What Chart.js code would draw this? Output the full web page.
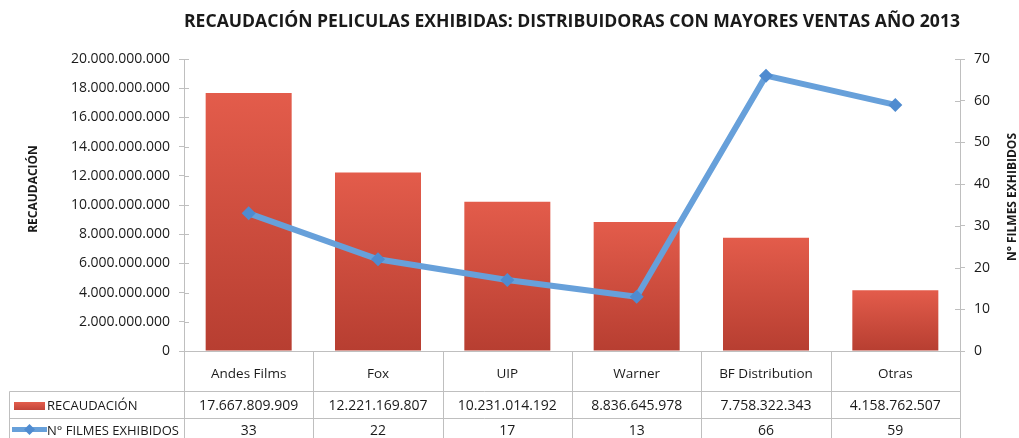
<!DOCTYPE html>
<html>
<head>
<meta charset="utf-8">
<script src="https://cdn.jsdelivr.net/npm/chart.js@4.4.1/dist/chart.umd.min.js"></script>
<style>
html,body{margin:0;padding:0;background:#fff;}
#wrap{width:1019px;height:438px;position:relative;}
</style>
</head>
<body>
<div id="wrap"><canvas id="c" width="1019" height="438"></canvas></div>
<script>
const categories = ['Andes Films', 'Fox', 'UIP', 'Warner', 'BF Distribution', 'Otras'];
const recaudacion = [17667809909, 12221169807, 10231014192, 8836645978, 7758322343, 4158762507];
const filmes = [33, 22, 17, 13, 66, 59];
const seriesNames = ['RECAUDACIÓN', 'N° FILMES EXHIBIDOS'];
const titleText = 'RECAUDACIÓN PELICULAS EXHIBIDAS: DISTRIBUIDORAS CON MAYORES VENTAS AÑO 2013';
const leftAxisTitle = 'RECAUDACIÓN';
const rightAxisTitle = 'N° FILMES EXHIBIDOS';

const FONT = "'Open Sans', 'DejaVu Sans', sans-serif";
const GRID = '#bfbfbf';
const TXT = '#1a1a1a';
const LINE = '#67A0DA';
const MARK = '#4F8BD0';

function fmt(v) {
  return String(Math.round(v)).replace(/\B(?=(\d{3})+(?!\d))/g, '.');
}

const decorPlugin = {
  id: 'decor',
  afterDraw(chart) {
    const ctx = chart.ctx;
    const x = chart.scales.x, y = chart.scales.y, y1 = chart.scales.y1;
    const ca = chart.chartArea;
    const L = ca.left, R = ca.right, B = ca.bottom;
    ctx.save();
    // inner tick marks
    ctx.strokeStyle = GRID; ctx.lineWidth = 1;
    y.ticks.forEach((t, i) => {
      const py = Math.round(y.getPixelForTick(i)) + 0.5;
      ctx.beginPath(); ctx.moveTo(L, py); ctx.lineTo(L + 5, py); ctx.stroke();
    });
    y1.ticks.forEach((t, i) => {
      const py = Math.round(y1.getPixelForTick(i)) + 0.5;
      ctx.beginPath(); ctx.moveTo(R - 5, py); ctx.lineTo(R, py); ctx.stroke();
    });
    // table grid
    const n = categories.length;
    const cw = (R - L) / n;
    const row1 = 391.5, row2 = 418.5, bot = 438;
    const tableLeft = 9.5;
    ctx.beginPath();
    ctx.moveTo(L - 5, Math.round(B) + 0.5); ctx.lineTo(R + 5, Math.round(B) + 0.5);
    ctx.moveTo(tableLeft, row1); ctx.lineTo(R, row1);
    ctx.moveTo(tableLeft, row2); ctx.lineTo(R, row2);
    ctx.moveTo(tableLeft, row1); ctx.lineTo(tableLeft, bot);
    for (let i = 0; i <= n; i++) {
      const px = Math.round(L + i * cw) + 0.5;
      ctx.moveTo(px, B); ctx.lineTo(px, bot);
    }
    ctx.stroke();
    // table text
    ctx.fillStyle = TXT;
    ctx.textAlign = 'center'; ctx.textBaseline = 'middle';
    for (let i = 0; i < n; i++) {
      const cx = x.getPixelForValue(i);
      ctx.font = '13.5px ' + FONT;
      ctx.fillText(categories[i], cx, 374);
      ctx.font = '14px ' + FONT;
      ctx.fillText(fmt(recaudacion[i]), cx, 406);
      ctx.fillText(String(filmes[i]), cx, 431);
    }
    // legend keys
    const g = ctx.createLinearGradient(0, 402, 0, 410);
    g.addColorStop(0, '#E35D4C'); g.addColorStop(1, '#C2453A');
    ctx.fillStyle = g;
    ctx.fillRect(14, 402, 31, 8);
    ctx.strokeStyle = LINE; ctx.lineWidth = 5;
    ctx.beginPath(); ctx.moveTo(12, 429.5); ctx.lineTo(47, 429.5); ctx.stroke();
    ctx.fillStyle = MARK;
    ctx.beginPath();
    ctx.moveTo(29.5, 424); ctx.lineTo(35, 429.5); ctx.lineTo(29.5, 435); ctx.lineTo(24, 429.5); ctx.closePath(); ctx.fill();
    ctx.fillStyle = TXT; ctx.textAlign = 'left';
    ctx.font = '13px ' + FONT;
    ctx.fillText(seriesNames[0], 47, 406);
    ctx.fillText(seriesNames[1], 47, 431);
    // axis titles
    ctx.font = 'bold 12px ' + FONT;
    ctx.textAlign = 'center';
    ctx.save(); ctx.translate(34, 189); ctx.rotate(-Math.PI / 2); ctx.fillText(leftAxisTitle, 0, 0); ctx.restore();
    ctx.save(); ctx.translate(1013, 197); ctx.rotate(-Math.PI / 2); ctx.fillText(rightAxisTitle, 0, 0); ctx.restore();
    ctx.restore();
  }
};

new Chart(document.getElementById('c'), {
  data: {
    labels: categories,
    datasets: [
      {
        type: 'line',
        label: seriesNames[1],
        data: filmes,
        yAxisID: 'y1',
        order: 0,
        borderColor: LINE,
        borderWidth: 6,
        tension: 0,
        pointStyle: 'rectRot',
        pointRadius: 7,
        pointBackgroundColor: MARK,
        pointBorderColor: MARK,
        pointBorderWidth: 0
      },
      {
        type: 'bar',
        label: seriesNames[0],
        data: recaudacion,
        yAxisID: 'y',
        order: 1,
        categoryPercentage: 1,
        barPercentage: 0.665,
        backgroundColor: (c) => {
          const chart = c.chart;
          if (!chart.chartArea || c.type !== 'data') return '#D24E40';
          const ys = chart.scales.y;
          const top = ys.getPixelForValue(c.raw), base = ys.getPixelForValue(0);
          if (!isFinite(top) || !isFinite(base) || top === base) return '#D24E40';
          const g = chart.ctx.createLinearGradient(0, top, 0, base);
          g.addColorStop(0, '#E35C4B');
          g.addColorStop(1, '#B73E31');
          return g;
        }
      }
    ]
  },
  options: {
    responsive: false,
    animation: false,
    layout: { padding: { top: 0, left: 0, right: 0, bottom: 87 } },
    plugins: {
      legend: { display: false },
      tooltip: { enabled: false },
      title: {
        display: true,
        text: titleText,
        fullSize: false,
        color: TXT,
        font: { family: FONT, size: 18, weight: 'bold' },
        padding: { top: 11.5, bottom: 25.9 }
      }
    },
    scales: {
      x: { type: 'category', display: false, offset: true },
      y: {
        position: 'left',
        min: 0, max: 20000000000,
        afterFit(s) { s.width = 184; },
        ticks: { stepSize: 2000000000, padding: 9, color: TXT, font: { family: FONT, size: 14 }, callback: v => fmt(v) },
        grid: { drawOnChartArea: false, drawTicks: true, tickLength: 5, color: GRID },
        border: { color: GRID }
      },
      y1: {
        position: 'right',
        min: 0, max: 70,
        afterFit(s) { s.width = 59; },
        ticks: { stepSize: 10, padding: 9, color: TXT, font: { family: FONT, size: 14 } },
        grid: { drawOnChartArea: false, drawTicks: true, tickLength: 5, color: GRID },
        border: { color: GRID }
      }
    }
  },
  plugins: [decorPlugin]
});
</script>
</body>
</html>
